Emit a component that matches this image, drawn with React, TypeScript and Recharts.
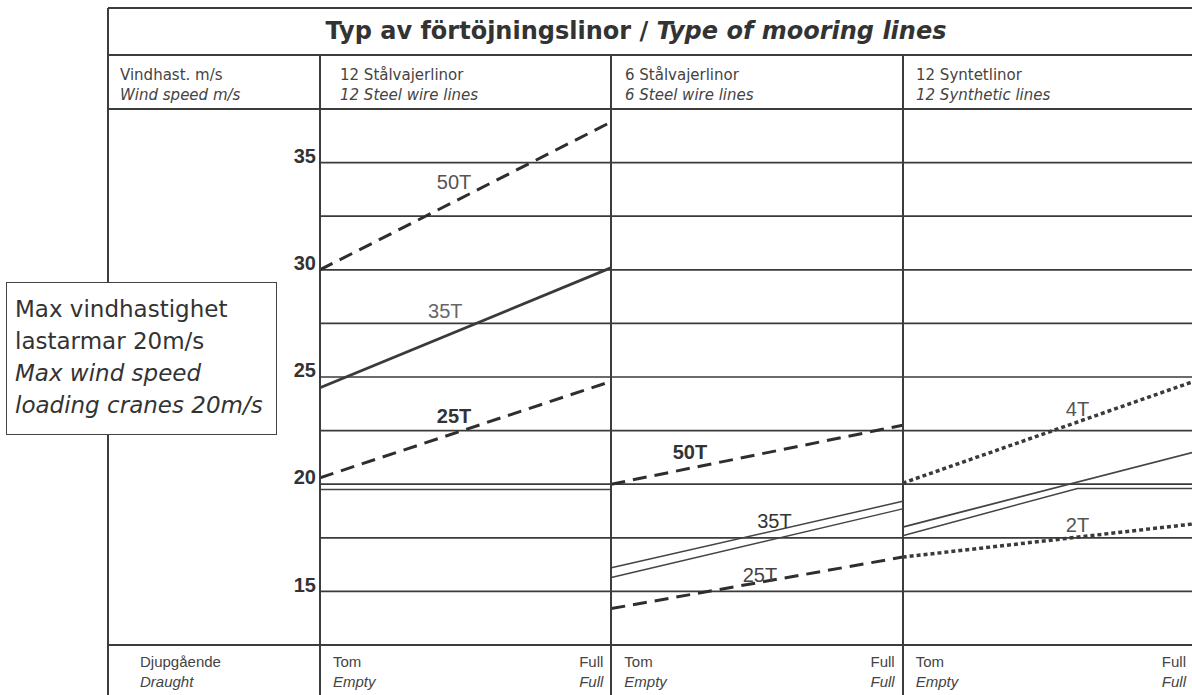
import { LineChart, Line, XAxis, YAxis, CartesianGrid, ReferenceDot } from 'recharts';

// wind speed grid (m/s) and the labelled ticks
const Y_GRID = [15, 17.5, 20, 22.5, 25, 27.5, 30, 32.5, 35];
const Y_LABELS = [15, 20, 25, 30, 35];

// draught position inside each panel: 0 = Tom/Empty, 1 = Full
const DRAUGHT = [0, 1];
const SYN_LOWER_X = [0, 0.6, 1];

// 12 steel wire lines
const P1_50T = [30.0, 36.9];
const P1_35T = [24.5, 30.1];
const P1_25T = [20.3, 24.8];
const P1_LIMIT = [19.75, 19.75];
// 6 steel wire lines
const P2_50T = [20.0, 22.75];
const P2_35T_UPPER = [16.1, 19.2];
const P2_35T_LOWER = [15.65, 18.85];
const P2_25T = [14.2, 16.6];
// 12 synthetic lines
const P3_4T = [20.05, 24.8];
const P3_2T = [16.6, 18.15];
const P3_SYN_UPPER = [18.0, 21.5];
const P3_SYN_LOWER = [17.6, 19.8, 19.8];

const LINE_LABELS = [
  { text: '50T', x: 0.46, v: 34.1, color: '#555', bold: false },
  { text: '35T', x: 0.43, v: 28.1, color: '#666', bold: false },
  { text: '25T', x: 0.46, v: 23.2, color: '#333', bold: true },
  { text: '50T', x: 1.27, v: 21.5, color: '#333', bold: true },
  { text: '35T', x: 1.56, v: 18.3, color: '#333', bold: false },
  { text: '25T', x: 1.51, v: 15.75, color: '#444', bold: false },
  { text: '4T', x: 2.6, v: 23.5, color: '#555', bold: false },
  { text: '2T', x: 2.6, v: 18.1, color: '#555', bold: false },
];

const pts = (panel: number, xs: number[], vs: number[]) =>
  xs.map((x, i) => ({ x: panel + x, v: vs[i] }));

const DASHED = { stroke: '#2e2e2e', strokeWidth: 3, strokeDasharray: '14 8' };
const SOLID = { stroke: '#3a3a3a', strokeWidth: 2.8 };
const THIN = { stroke: '#444', strokeWidth: 1.5 };
const DOTTED = { stroke: '#3a3a3a', strokeWidth: 3.5, strokeDasharray: '4 3' };

const SERIES = [
  { key: 'p1-50', data: pts(0, DRAUGHT, P1_50T), style: DASHED },
  { key: 'p1-35', data: pts(0, DRAUGHT, P1_35T), style: SOLID },
  { key: 'p1-25', data: pts(0, DRAUGHT, P1_25T), style: DASHED },
  { key: 'p1-lim', data: pts(0, DRAUGHT, P1_LIMIT), style: THIN },
  { key: 'p2-50', data: pts(1, DRAUGHT, P2_50T), style: DASHED },
  { key: 'p2-35u', data: pts(1, DRAUGHT, P2_35T_UPPER), style: THIN },
  { key: 'p2-35l', data: pts(1, DRAUGHT, P2_35T_LOWER), style: THIN },
  { key: 'p2-25', data: pts(1, DRAUGHT, P2_25T), style: DASHED },
  { key: 'p3-4', data: pts(2, DRAUGHT, P3_4T), style: DOTTED },
  { key: 'p3-2', data: pts(2, DRAUGHT, P3_2T), style: DOTTED },
  { key: 'p3-su', data: pts(2, DRAUGHT, P3_SYN_UPPER), style: { ...THIN, strokeWidth: 1.8 } },
  { key: 'p3-sl', data: pts(2, SYN_LOWER_X, P3_SYN_LOWER), style: THIN },
];

const FONT = '"Liberation Sans", Arial, sans-serif';
const WIDE = '"DejaVu Sans", sans-serif';
const INK = '#3c3c3c';

// table layout
const LEFT = 108;
const PLOT_LEFT = 320;
const PLOT_RIGHT = 1194;
const PANEL_W = (PLOT_RIGHT - PLOT_LEFT) / 3;
const TOP = 8;
const TITLE_BOTTOM = 55;
const HEAD_BOTTOM = 109;
const PLOT_BOTTOM = 645;

const hLine = (y: number, key: string) => (
  <div key={key} style={{ position: 'absolute', left: LEFT, right: 0, top: y - 1, height: 2, background: INK }} />
);
const vLine = (x: number, y0: number, key: string) => (
  <div key={key} style={{ position: 'absolute', left: x - 1, top: y0, bottom: 0, width: 2, background: INK }} />
);

const YTick = (props: any) => {
  const { x, y, payload } = props;
  if (!Y_LABELS.includes(payload.value)) return null;
  return (
    <text x={x} y={y - 5} textAnchor="end" dominantBaseline="middle" fontSize={20} fontWeight={600} fill="#333" fontFamily={FONT}>
      {payload.value}
    </text>
  );
};

const txt = (s: any): any => ({ position: 'absolute', whiteSpace: 'nowrap', fontSize: 15, color: '#444', lineHeight: '20px', ...s });

export default function App() {
  return (
    <div style={{ position: 'absolute', left: 0, top: 0, width: 1192, height: 695, overflow: 'hidden', background: '#fff', fontFamily: FONT }}>
      <LineChart width={1200} height={695} margin={{ top: HEAD_BOTTOM, right: 1200 - PLOT_RIGHT, bottom: 695 - PLOT_BOTTOM, left: 0 }}>
        <CartesianGrid vertical={false} stroke="#3a3a3a" strokeWidth={1.7} />
        <XAxis dataKey="x" type="number" domain={[0, 3]} hide allowDataOverflow />
        <YAxis
          type="number"
          domain={[12.5, 37.5]}
          ticks={Y_GRID}
          width={PLOT_LEFT}
          axisLine={false}
          tickLine={false}
          tickSize={0}
          tickMargin={4}
          tick={<YTick />}
          allowDataOverflow
        />
        {SERIES.map((s) => (
          <Line
            key={s.key}
            data={s.data}
            dataKey="v"
            type="linear"
            dot={false}
            activeDot={false}
            isAnimationActive={false}
            {...s.style}
          />
        ))}
        {LINE_LABELS.map((l, i) => (
          <ReferenceDot
            key={i}
            x={l.x}
            y={l.v}
            r={0}
            fill="none"
            stroke="none"
            label={{ value: l.text, position: 'center', fill: l.color, fontSize: 20, fontWeight: l.bold ? 700 : 500, fontFamily: FONT }}
          />
        ))}
      </LineChart>

      {/* table frame */}
      {hLine(TOP, 'top')}
      {hLine(TITLE_BOTTOM, 'title')}
      {hLine(HEAD_BOTTOM, 'head')}
      {hLine(PLOT_BOTTOM, 'bottom')}
      {vLine(LEFT, TOP, 'left')}
      {[0, 1, 2].map((i) => vLine(PLOT_LEFT + i * PANEL_W, TITLE_BOTTOM, 'sep' + i))}

      <div style={txt({ left: 636, top: 17, transform: 'translateX(-50%)', fontFamily: WIDE, fontSize: 24, fontWeight: 700, color: '#333', lineHeight: '28px' })}>
        Typ av förtöjningslinor / <i>Type of mooring lines</i>
      </div>

      <div style={txt({ left: 120, top: 65, fontFamily: WIDE })}>Vindhast. m/s<br /><i>Wind speed m/s</i></div>
      <div style={txt({ left: 340, top: 65, fontFamily: WIDE })}>12 Stålvajerlinor<br /><i>12 Steel wire lines</i></div>
      <div style={txt({ left: 625, top: 65, fontFamily: WIDE })}>6 Stålvajerlinor<br /><i>6 Steel wire lines</i></div>
      <div style={txt({ left: 916, top: 65, fontFamily: WIDE })}>12 Syntetlinor<br /><i>12 Synthetic lines</i></div>

      <div style={txt({ left: 140, top: 652 })}>Djupgående<br /><i>Draught</i></div>
      {[0, 1, 2].map((i) => (
        <div key={'d' + i}>
          <div style={txt({ left: PLOT_LEFT + i * PANEL_W + 13, top: 652 })}>Tom<br /><i>Empty</i></div>
          <div style={txt({ left: PLOT_LEFT + (i + 1) * PANEL_W - 48, top: 652, width: 40, textAlign: 'right' })}>Full<br /><i>Full</i></div>
        </div>
      ))}

      <div
        style={{
          position: 'absolute', left: 6, top: 282, width: 271, height: 153, background: '#fff', fontFamily: WIDE,
          border: '1.5px solid #444', fontSize: 23, color: '#333', lineHeight: '32px', padding: '10px 0 0 8px', boxSizing: 'border-box',
        }}
      >
        Max vindhastighet<br />lastarmar 20m/s<br /><i>Max wind speed</i><br /><i>loading cranes 20m/s</i>
      </div>
    </div>
  );
}
